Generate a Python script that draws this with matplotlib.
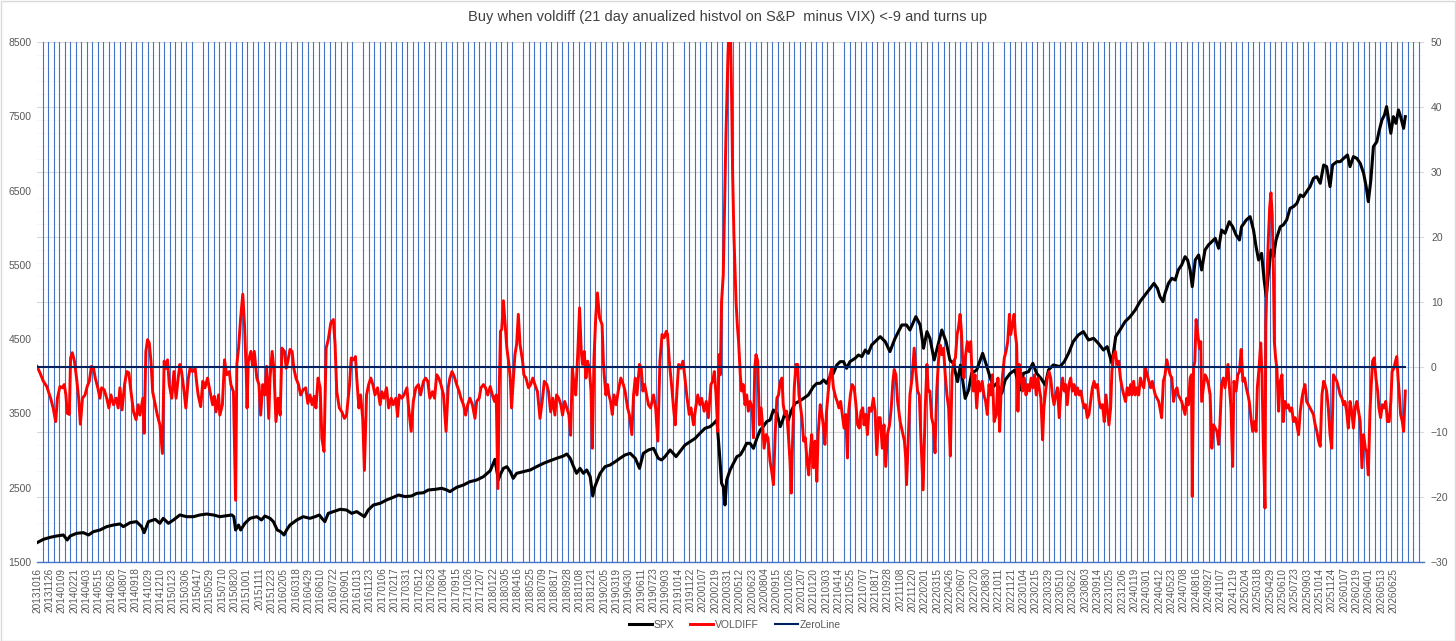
import numpy as np
import matplotlib.pyplot as plt
from matplotlib.patches import Rectangle

title = "Buy when voldiff (21 day anualized histvol on S&P  minus VIX) <-9 and turns up"

# category axis: one label every 29 trading days, blue gridline every 13
date_labels = ["20131016", "20131126", "20140109", "20140221", "20140403", "20140515", "20140626",
               "20140807", "20140918", "20141029", "20141210", "20150123", "20150306", "20150417",
               "20150529", "20150710", "20150820", "20151001", "20151111", "20151223", "20160205",
               "20160318", "20160429", "20160610", "20160722", "20160901", "20161013", "20161123",
               "20170106", "20170217", "20170331", "20170512", "20170623", "20170804", "20170915",
               "20171026", "20171207", "20180122", "20180305", "20180416", "20180525", "20180709",
               "20180817", "20180928", "20181108", "20181221", "20190205", "20190319", "20190430",
               "20190611", "20190723", "20190903", "20191014", "20191122", "20200107", "20200219",
               "20200331", "20200512", "20200623", "20200804", "20200915", "20201026", "20201207",
               "20210120", "20210303", "20210414", "20210525", "20210707", "20210817", "20210928",
               "20211108", "20211220", "20220201", "20220315", "20220426", "20220607", "20220720",
               "20220830", "20221011", "20221121", "20230104", "20230215", "20230329", "20230510",
               "20230622", "20230803", "20230914", "20231025", "20231206", "20240119", "20240301",
               "20240412", "20240523", "20240708", "20240816", "20240927", "20241107", "20241219",
               "20250204", "20250318", "20250429", "20250610", "20250723", "20250903", "20251014",
               "20251124", "20260107", "20260219", "20260401", "20260513", "20260625"]
label_step = 29
grid_step = 13
n_days = 3262

# SPX (left axis): trading-day index, value
spx_day = [0, 15, 31, 46, 62, 71, 78, 93, 109, 121, 133, 148, 164, 180, 195, 203, 219, 234, 246, 252,
           262, 278, 289, 297, 309, 321, 336, 352, 368, 383, 399, 415, 430, 446, 458, 463, 467, 474,
           479, 489, 501, 517, 528, 536, 548, 556, 565, 573, 581, 587, 595, 611, 626, 642, 654, 664,
           670, 677, 685, 697, 713, 728, 740, 752, 764, 770, 779, 791, 807, 822, 838, 850, 866, 881,
           893, 909, 920, 936, 952, 964, 971, 987, 1003, 1018, 1034, 1050, 1066, 1077, 1081, 1085,
           1089, 1097, 1105, 1113, 1120, 1128, 1144, 1160, 1175, 1191, 1207, 1222, 1238, 1246, 1254,
           1262, 1269, 1277, 1285, 1293, 1301, 1307, 1312, 1318, 1324, 1336, 1348, 1360, 1371, 1383,
           1395, 1407, 1417, 1426, 1438, 1450, 1461, 1469, 1477, 1489, 1503, 1512, 1524, 1536, 1548,
           1559, 1571, 1583, 1592, 1599, 1605, 1610, 1614, 1618, 1622, 1630, 1638, 1646, 1654, 1661,
           1669, 1677, 1685, 1693, 1701, 1708, 1716, 1724, 1732, 1740, 1748, 1754, 1759, 1767, 1775,
           1783, 1791, 1803, 1814, 1826, 1834, 1842, 1850, 1857, 1865, 1873, 1881, 1889, 1897, 1904,
           1912, 1924, 1932, 1940, 1948, 1955, 1963, 1971, 1983, 1995, 2006, 2018, 2034, 2045, 2053,
           2067, 2077, 2085, 2093, 2100, 2110, 2120, 2128, 2138, 2147, 2155, 2165, 2172, 2183, 2191,
           2198, 2210, 2224, 2234, 2241, 2249, 2257, 2269, 2277, 2289, 2300, 2312, 2320, 2332, 2342,
           2351, 2361, 2371, 2379, 2390, 2406, 2416, 2426, 2437, 2449, 2461, 2473, 2485, 2496, 2508,
           2517, 2528, 2537, 2547, 2559, 2571, 2583, 2594, 2606, 2618, 2627, 2635, 2641, 2648, 2653,
           2661, 2669, 2677, 2684, 2692, 2700, 2706, 2712, 2717, 2724, 2732, 2739, 2747, 2755, 2763,
           2771, 2779, 2786, 2794, 2804, 2812, 2820, 2828, 2833, 2844, 2853, 2861, 2867, 2873, 2880,
           2886, 2891, 2896, 2902, 2908, 2914, 2924, 2931, 2939, 2947, 2955, 2963, 2971, 2978, 2986,
           2994, 3002, 3010, 3018, 3026, 3033, 3041, 3047, 3057, 3065, 3073, 3082, 3088, 3096, 3104,
           3112, 3120, 3126, 3131, 3137, 3143, 3151, 3157, 3163, 3169, 3174, 3180, 3184, 3190, 3196,
           3202, 3207, 3214, 3218]
spx = [1760, 1805, 1832, 1850, 1864, 1796, 1850, 1886, 1895, 1864, 1909, 1931, 1976, 1998, 2012, 1976,
       2030, 2043, 1976, 1895, 2043, 2074, 2021, 2088, 2021, 2066, 2133, 2110, 2110, 2133, 2146, 2133,
       2110, 2124, 2133, 2110, 1931, 1998, 1931, 2021, 2088, 2110, 2066, 2119, 2088, 2043, 1931, 1909,
       1864, 1931, 1998, 2066, 2110, 2088, 2110, 2133,
       2088, 2043, 2155, 2178, 2209, 2200, 2155, 2178, 2133, 2110, 2200, 2267, 2290, 2335, 2371, 2402,
       2380, 2389, 2424, 2433, 2469, 2478, 2492, 2469, 2447, 2505, 2537, 2581, 2604, 2649, 2730, 2882,
       2739, 2604, 2671, 2761, 2783, 2716, 2626, 2694, 2716, 2739, 2783, 2828, 2864, 2896, 2927, 2954,
       2896, 2783, 2694, 2761, 2694, 2739, 2649, 2389, 2514, 2604,
       2690, 2784, 2806, 2851, 2896, 2941, 2963, 2896, 2761, 2963, 3008, 3030, 2896, 2874, 2919, 3008,
       2919, 2986, 3075, 3120, 3165, 3232, 3300, 3322, 3367, 3412, 2963, 2559, 2514, 2268, 2604, 2739,
       2829, 2919, 2941, 3008, 3098, 3098, 3030, 3165, 3277, 3322, 3390, 3412, 3546, 3502, 3322, 3412,
       3502, 3412, 3546, 3636, 3659, 3703, 3748, 3860, 3905, 3905, 3950, 3905, 3995, 4040, 4152, 4197,
       4197, 4107, 4197, 4242, 4287, 4264, 4354, 4309, 4421, 4466, 4534,
       4466, 4332, 4511, 4691, 4691, 4623, 4803, 4691, 4377, 4601, 4511, 4219, 4444, 4623, 4466, 4219,
       4175, 3928, 4152, 3703, 3816, 4040, 4085, 4309, 4130, 3995, 3860, 3905, 3771, 3950, 4040, 4085,
       3816, 4040, 4062, 4175, 4040, 3973, 3883, 4085, 4152, 4130, 4197, 4309, 4466, 4556, 4601, 4489,
       4511, 4444, 4354, 4399, 4175, 4534, 4623, 4736, 4803, 4893, 5005, 5094, 5184, 5251, 5184, 5072,
       5005, 5117, 5251, 5319, 5296, 5431, 5498, 5610, 5566, 5431, 5207, 5566, 5633, 5431, 5700, 5768,
       5812, 5857, 5723, 5969, 5925, 6081, 6014, 5902, 5835, 6014, 6104, 6149, 5969, 5745, 5566, 5655,
       5296, 5072, 5386, 5700, 5610, 5835, 6014, 6037, 6104, 6261, 6284, 6328, 6441, 6418, 6485, 6553,
       6665, 6687, 6598, 6844, 6822, 6553, 6844, 6889, 6889, 6934, 6979, 6822, 6957, 6934, 6867, 6732,
       6553, 6351, 6642, 7091, 7158, 7316, 7450, 7517, 7630, 7405, 7271, 7495, 7405, 7585, 7495, 7338,
       7495]

# VOLDIFF (right axis): trading-day index, value
vd_day = [0, 7, 15, 23, 27, 32, 38, 44, 48, 54, 60, 64, 68, 71, 76, 79, 83, 88, 93, 98, 102, 107, 113,
          118, 123, 128, 133, 137, 143, 148, 152, 158, 164, 169, 174, 180, 186, 191, 195, 200, 206, 211,
          216, 221, 227, 233, 238, 242, 249, 252, 256, 260, 264, 268, 272, 278, 283, 289, 295, 299, 303,
          307, 311, 317, 322, 327, 332, 336, 340, 346, 350, 356, 360, 366, 372, 376, 379, 385, 390, 395,
          401, 407, 413, 417, 421, 427, 430, 436, 441, 446, 452, 456, 462, 467, 470, 474, 479, 484, 488,
          492, 494, 497, 503, 507, 511, 517, 522, 526, 531, 536, 540, 545, 548, 553, 557, 562, 567, 572,
          576, 582, 586, 590, 595, 600, 604, 609, 615, 620, 626, 632, 637, 642, 647, 652, 656, 661, 666,
          670, 675, 680, 685, 691, 697, 701, 705, 711, 717, 723, 728, 735, 739, 744, 749, 752, 757, 761,
          766, 770, 775, 780, 785, 790, 795, 801, 807, 811, 816, 822, 827, 833, 838, 844, 848, 852, 858,
          863, 870, 874, 880, 885, 891, 897, 902, 909, 914, 919, 924, 930, 935, 940, 945, 950, 956, 962,
          967, 971, 976, 981, 987, 993, 997, 1003, 1008, 1013, 1018, 1024, 1030, 1034, 1040, 1044, 1050,
          1055, 1060, 1066, 1071, 1076, 1080, 1084, 1087, 1090, 1093, 1097, 1101, 1105, 1109, 1113, 1116,
          1120, 1124, 1128, 1132, 1136, 1142, 1145, 1150, 1156, 1161, 1166, 1171, 1177, 1183, 1189, 1193,
          1199, 1203, 1208, 1213, 1218, 1222, 1227, 1232, 1236, 1241, 1246, 1251, 1255, 1259, 1263, 1267,
          1272, 1276, 1280, 1283, 1287, 1291, 1295, 1299, 1303, 1306, 1310, 1314, 1318, 1323,
          1329, 1332, 1334, 1338, 1342, 1345, 1349, 1353, 1357, 1362, 1367, 1373, 1379, 1383, 1389, 1393,
          1399, 1403, 1407, 1411, 1417, 1421, 1425, 1429, 1432, 1438, 1443, 1450, 1455, 1460, 1465, 1470,
          1475, 1480, 1483, 1487, 1493, 1497, 1501, 1505, 1509, 1514, 1519, 1523, 1528, 1534, 1538, 1544,
          1549, 1554, 1559, 1563, 1569, 1574, 1579, 1585, 1589, 1593, 1597, 1601, 1604, 1607, 1610, 1614,
          1617, 1620, 1623, 1625, 1628, 1631, 1634, 1636, 1639, 1642, 1644, 1647, 1650, 1654, 1657, 1661,
          1665, 1669, 1673, 1677, 1682, 1685, 1688, 1691, 1695, 1699, 1703, 1707, 1710, 1715, 1719, 1724,
          1728, 1732, 1736, 1740, 1744, 1748, 1752, 1755, 1759, 1763, 1767, 1771, 1774, 1777, 1781, 1785,
          1789, 1792, 1796, 1799, 1803, 1807, 1811, 1815, 1818, 1822, 1826, 1830, 1834, 1837, 1842, 1846,
          1850, 1853, 1857, 1861, 1865, 1869, 1873, 1879, 1882, 1886, 1890, 1894, 1898, 1902, 1906, 1909,
          1913, 1917, 1922, 1926, 1930, 1934, 1938, 1942, 1945, 1949, 1953, 1957, 1962, 1967, 1971, 1975,
          1979, 1983,
          1988, 1992, 1996, 2000, 2005, 2009, 2013, 2016, 2020, 2024, 2030, 2035, 2040, 2043, 2045, 2049,
          2053, 2058, 2063, 2067, 2071, 2075, 2079, 2084, 2089, 2093, 2096, 2100, 2104, 2108, 2112, 2116,
          2120, 2124, 2128, 2132, 2136, 2140, 2144, 2148, 2152, 2156, 2160, 2164, 2167, 2171, 2174, 2177,
          2180, 2184, 2188, 2192, 2196, 2199, 2202, 2206, 2210, 2214, 2218, 2223, 2227, 2231, 2235, 2239,
          2243, 2247, 2251, 2256, 2260, 2264, 2267, 2271, 2275, 2279, 2283, 2287, 2290, 2294, 2298, 2301,
          2304, 2307, 2310, 2314, 2318, 2322, 2326, 2330, 2334, 2338, 2342, 2346, 2350, 2354, 2358, 2361,
          2365, 2368, 2372, 2376, 2380, 2384, 2388, 2392, 2396, 2400, 2404, 2408, 2412, 2416, 2419, 2423,
          2427, 2431, 2435, 2439, 2443, 2447, 2451, 2455, 2459, 2463, 2466, 2470, 2474, 2478, 2482, 2486,
          2490, 2494, 2498, 2502, 2506, 2510, 2514, 2517, 2521, 2525, 2528, 2532, 2536, 2540, 2544, 2548,
          2552, 2556, 2560, 2564, 2568, 2572, 2575, 2579, 2583, 2587, 2591, 2595, 2599, 2603, 2607, 2611,
          2615, 2619, 2623, 2626, 2630, 2634, 2638, 2641,
          2645, 2649, 2653, 2657, 2661, 2665, 2669, 2673, 2677, 2681, 2684, 2688, 2692, 2696, 2700, 2704,
          2708, 2712, 2715, 2717, 2720, 2723, 2726, 2730, 2734, 2737, 2739, 2743, 2747, 2751, 2755, 2759,
          2763, 2767, 2771, 2775, 2779, 2782, 2786, 2790, 2794, 2798, 2801, 2804, 2808, 2812, 2815, 2820,
          2824, 2828, 2832, 2836, 2840, 2844, 2848, 2851, 2855, 2859, 2863, 2867, 2870, 2874, 2878, 2881,
          2884, 2888, 2890, 2893, 2896, 2899, 2902, 2905, 2908, 2910, 2913, 2916, 2920, 2924, 2928, 2931,
          2935, 2939, 2943, 2947, 2951, 2955, 2959, 2963, 2967, 2971, 2975, 2978, 2982, 2986, 2990, 2994,
          2998, 3002, 3006, 3010, 3014, 3018, 3022, 3026, 3029, 3033, 3037, 3041, 3045, 3049, 3053, 3057,
          3061, 3065, 3069, 3073, 3076, 3080, 3084, 3088, 3092, 3096, 3100, 3104, 3108, 3112, 3116, 3120,
          3124, 3127, 3131, 3135, 3138, 3141, 3145, 3149, 3153, 3156, 3160, 3164, 3168, 3172, 3176, 3180,
          3184, 3187, 3191, 3195, 3198, 3201, 3204, 3207, 3211, 3214, 3218]
voldiff = [0.1, -0.9, -2.2, -3.0, -3.8, -4.8, -6.3, -8.4, -4.8, -3.0, -3.2, -2.7, -4.3, -7.1, -7.3, 1.4,
           2.2, 0.9, -1.7, -4.8, -8.8, -4.8, -4.3, -3.0, -2.2, 0.1, -0.2, -1.7, -3.2, -4.8, -3.2, -3.5,
           -4.8, -6.3, -4.3, -5.8, -4.8, -6.3, -3.2, -6.6, -2.7, -0.7, -0.9, -3.8, -6.9, -8.1, -5.8, -7.4,
           -4.8, -10.2, 2.4, 4.2, 3.7, 0.9, -3.8, -5.8, -7.4, -8.9, -13.3, 0.9, -0.2, 1.1, -2.7, -4.8, -0.7,
           -4.8, -1.7, 0.4, -0.7, -3.8, -6.3, -1.7, -0.2, -0.7, -0.2, -2.7, -4.3, -6.1, -2.2, -3.2, -1.7,
           -3.8, -5.8, -4.5, -6.9, -4.3, -7.4, -5.8, 1.1, -1.2, -0.7, -2.7, -3.8, -20.5, 0.4, 2.9, 7.6, 11.2,
           6.5, -0.7, -6.3, 0.9, 2.4, 0.1, 2.4, -1.7, -2.7, -7.4, -2.7, -4.3, 0.1, -7.9, -1.7, 2.4, -0.2,
           -8.4, -4.8, -7.4, 2.9, 2.4, -0.2, 0.9, 2.7, 2.4, -0.2, -1.7, -2.7, -4.3, -3.5, -3.2, -5.6, -4.3,
           -5.8, -4.5, -6.3, -1.7, -3.2,
           -11.0, -13.0, 2.9, 4.2, 6.8, 7.3, 3.5, -3.8, -6.3, -6.9, -7.9, -7.4, -2.7, 1.4, 1.1, 1.6, -1.7,
           -6.3, -4.3, -7.9, -15.9, -4.3, -2.7, -1.7, -2.7, -4.3, -3.2, -5.8, -3.8, -4.8, -3.2, -6.3, -4.8,
           -5.8, -4.8, -7.6, -4.3, -4.8, -4.3, -3.2, -6.3, -9.9, -5.3, -3.2, -2.7, -4.3, -2.2, -1.7, -2.2,
           -4.8, -3.8, -4.8, -1.2, -1.7, -2.7, -4.3, -9.9, -3.2, -1.7, -0.7, -1.4, -2.7, -3.8, -4.8, -5.8,
           -7.4, -5.8, -4.8, -5.8, -7.9, -5.3, -4.8, -3.2, -2.7, -3.2, -4.3, -3.0, -4.3, -5.3, -4.3, -18.7,
           -3.8, 5.5, 5.8, 10.2, 6.5, 2.9, 0.9, -1.7, -6.3, -2.2, 1.9, 3.5, 8.1, 3.5, 0.9, -1.2, -1.7, -3.2,
           -2.7, -1.7, -2.7, -3.8, -7.9, -4.8, -2.2, -2.7, -3.8, -6.9, -4.8, -7.4, -4.3, -4.8, -5.8, -7.4,
           -5.3, -6.3, -7.4, -10.5, -0.2, -2.7, -4.3, 2.4, 9.1, 2.4, 0.4, 2.4, -1.7, 0.9, -0.2, -3.8, -12.5,
           1.4, 7.6, 11.4, 7.6,
           6.5, 0.9, -1.2, -4.3, -2.7, -4.3, -5.3, -7.3, -4.3, -5.8, -3.7, -1.7, -2.7, -3.7, -6.3, -7.3,
           -10.4, -4.3, -1.7, -4.3, 0.4, -0.2, -3.7, -2.7, -3.7, -5.8, -6.3, -4.3, -6.3, -11.4, 0.9, 5.0,
           4.5, 5.5, 5.0, 0.9, -3.2, -6.3, -8.9, -3.7, 0.4, -0.2, 0.9, -1.2, -4.3, -7.3, -6.3, -8.9, -6.3,
           -4.3, -5.8, -4.8, -6.8, -5.3, -7.8, -2.7, -2.2, -0.7, -4.3, -9.9, 1.9, -1.2, 10.1, 14.2, 24.5,
           34.7, 42.4, 48.1, 53.0, 52.0, 39.8, 29.6, 20.4, 14.2, 10.1, 6.5, 3.9, -1.2, -3.7, -2.7, -5.8,
           -4.3, -6.8, -5.3, -6.3, -10.9, -0.2, 1.9, 0.9, -8.9, -6.3, -9.4, -12.5, -10.4, -10.9, -14.5,
           -16.1, -18.1, -10.4, -4.8, -4.3, -2.2, -1.7, -5.8, -7.3, -6.8, -10.4, -14.5, -19.4, -11.4, -3.2,
           0.4, 0.4, -4.3, -6.3, -7.8, -11.4, -10.9, -14.5, -16.6, -13.5, -10.4, -15.5, -11.4, -17.6,
           -10.4, -5.8, -7.3, -9.4, -11.9, -6.8, -3.7, -1.2, -0.2, -3.2, -4.8, -5.3, -6.3, -5.3, -7.3,
           -9.4, -7.3, -14.0, -6.8, -4.3, -2.7, -3.2, -5.8, -8.9, -9.4, -6.8, -6.3, -8.9, -7.3, -10.4,
           -6.3, -6.8, -4.8, -6.8, -13.5, -7.8, -7.8,
           -12.5, -8.9, -15.3, -10.4, -8.9, -6.3, -2.2, -0.4, -1.2, -5.3, -8.4, -9.9, -11.4, -14.0, -18.1,
           -11.4, -4.3, -1.7, 2.9, -0.7, -3.7, -4.3, -11.4, -18.9, -6.3, 0.4, -3.7, -3.7, -7.8, -8.9, -13.2,
           -3.7, 0.9, 3.4, 1.9, 2.9, -1.2, -4.3, -6.3, -13.7, -1.2, 0.9, 1.4, 5.0, 6.0, 8.1, 5.5, 0.9, -1.7,
           1.9, 3.9, 2.4, 3.9, -1.2, -3.7, -1.2, -6.3, -2.2, -3.7, -2.2, -4.3, -5.3, -7.3, -2.7, -4.3, -1.2,
           -8.4, -7.3, -1.7, -9.9, -4.3, -1.2, 1.4, 2.4, 3.9, 8.1, 5.0, 6.5, 8.1, 5.0, 3.4, -6.8, 0.4, -1.2,
           -3.7, -1.7, -4.3, -2.7, -3.7, -1.7, -3.2, -1.2, -4.3, -1.7, -3.7, -4.8, -11.2, -6.3, -3.7, -1.7,
           -0.7, -1.7, -4.3, -5.8, -4.3, -3.2, -7.8, -3.7, -1.7, -3.7, -2.7, -5.8, -2.7, -1.7, -3.7, -2.7,
           -4.3, -3.2, -4.3, -3.7, -5.3, -6.3, -5.8, -7.8, -7.3, -5.3, -3.2, -2.2, -3.2, -2.7, -5.3, -6.3,
           -5.8, -8.4, -4.3, -6.3, -8.9, -6.3, -0.7, 1.9, 2.4, 0.4, 0.9, -1.7, -3.2, -4.3, -5.3, -3.2, -4.3,
           -2.7, -4.3, -2.2, -4.3, -3.2, -4.3, -1.7, -2.7, -3.2, -0.2, -1.2, -2.2, -3.2, -2.2, -3.2, -4.3,
           -4.8, -5.3, -6.3,
           -7.8, -2.2, -1.2, 1.1, -0.2, -1.2, -1.7, -5.3, -3.7, -3.2, -4.3, -4.8, -5.3, -6.3, -7.3, -4.8,
           -5.8, -1.7, -1.2, -19.9, -0.2, 0.9, 7.3, 5.0, 2.9, 3.9, -5.3, -3.2, -1.2, -1.7, -2.7, -4.3, -12.5,
           -8.9, -9.4, -9.9, -11.9, -8.9, -2.7, -1.7, -3.2, -1.2, 0.4, -2.7, -6.3, -15.3, -2.2, -3.7, -1.2,
           -0.7, 2.7, -2.2, -1.7, -3.2, -4.3, -5.3, -7.8, -9.9, -8.4, -9.9, -3.2, -0.2, 3.7, -1.2, -11.4,
           -21.7, 6.5, 14.2, 19.8, 24.5, 26.8, 23.4, 14.2, 3.9, 1.4, -0.2, -6.8, -2.2, -1.2, -8.4, -5.3,
           -6.3, -5.8, -6.8, -6.3, -8.4, -7.8, -8.9, -10.4, -6.8, -4.8, -3.7, -2.7, -5.3, -5.8, -6.3, -6.8,
           -7.3, -8.9, -9.9, -11.4, -12.2, -4.3, -2.2, -2.7, -3.7, -6.3, -10.4, -12.5, -1.2, -1.7, -2.2,
           -3.2, -4.3, -4.8, -5.8, -5.3, -6.8, -9.4, -5.3, -6.8, -9.4, -6.3, -5.3, -6.8, -8.4, -15.5, -10.4,
           -12.5, -13.0, -16.6, -6.8, -2.7, 0.9, 1.4, -1.7, -3.7, -6.3, -7.8, -5.8, -6.3, -5.3, -8.4, -8.4,
           -5.3, -0.7, -0.2, 0.9, 1.6, -1.7, -4.3, -7.3, -8.4, -9.9, -3.7]
zero_value = 0.0

print("lengths:", len(spx_day), len(spx), len(vd_day), len(voldiff))

W, H = 1456, 641
fig = plt.figure(figsize=(W / 100, H / 100), dpi=100)
plt.rcParams['font.family'] = ['Liberation Sans', 'DejaVu Sans']
text_col = '#595959'

ax = fig.add_axes([37 / W, 79 / H, 1387 / W, 520 / H])
ax2 = ax.twinx()

ax.set_xlim(0, n_days)
ax.set_ylim(1500, 8500)
ax2.set_ylim(-30, 50)

# horizontal gridlines belong to the right axis; draw them on the bottom axes so lines sit on top
def right_to_left(r):
    return 1500 + (r + 30) * 7000 / 80.0

for r in range(-28, 50, 2):
    if r % 10 != 0:
        ax.axhline(right_to_left(r), color='#EDEDED', lw=0.6, ls=(0, (2, 2)), zorder=0.3)
for r in range(-20, 51, 10):
    ax.axhline(right_to_left(r), color='#D9D9D9', lw=0.8, zorder=0.4)

ax.set_xticks(np.arange(0, n_days + 1, grid_step), minor=True)
ax.grid(which='minor', axis='x', color='#4472C4', lw=0.8)
ax.set_axisbelow(True)

ax.set_xticks([k * label_step for k in range(len(date_labels))])
ax.set_xticklabels(date_labels, rotation=90, fontsize=7.2, color=text_col)
ax.tick_params(axis='x', which='both', length=0, pad=4)

ax.set_yticks(range(1500, 8501, 1000))
ax.tick_params(axis='y', length=0, pad=4, labelsize=7.5, labelcolor=text_col)
ax2.set_yticks(range(-30, 51, 10))
ax2.tick_params(axis='y', length=0, pad=5, labelsize=7.5, labelcolor=text_col)

for a in (ax, ax2):
    for s in ('top', 'left', 'right', 'bottom'):
        a.spines[s].set_visible(False)
ax.spines['bottom'].set_visible(True)
ax.spines['bottom'].set_color('#4472C4')
ax.spines['bottom'].set_linewidth(1.0)

l1, = ax.plot(spx_day, spx, color='black', lw=2.2, solid_joinstyle='round', zorder=2)
l2, = ax2.plot(vd_day, voldiff, color='#FF0000', lw=2.1, solid_joinstyle='round', zorder=2)
l3, = ax2.plot([vd_day[0], vd_day[-1]], [zero_value, zero_value], color='#002060', lw=1.5, zorder=3)

fig.text(0.5, 1 - 17 / H, title, ha='center', va='center', fontsize=10.5, color='#404040')

leg = fig.legend([l1, l2, l3], ['SPX', 'VOLDIFF', 'ZeroLine'], loc='center',
                 bbox_to_anchor=(735 / W, 16 / H), ncol=3, frameon=False, fontsize=7.5,
                 handlelength=2.2, handletextpad=0.2, columnspacing=1.5)
for t in leg.get_texts():
    t.set_color(text_col)

fig.add_artist(Rectangle((0.5 / W, 0.5 / H), 1 - 1.5 / W, 1 - 1.5 / H, transform=fig.transFigure,
                         fill=False, edgecolor='#D9D9D9', lw=1))

plt.savefig('out.png', dpi=100)
plt.close()
